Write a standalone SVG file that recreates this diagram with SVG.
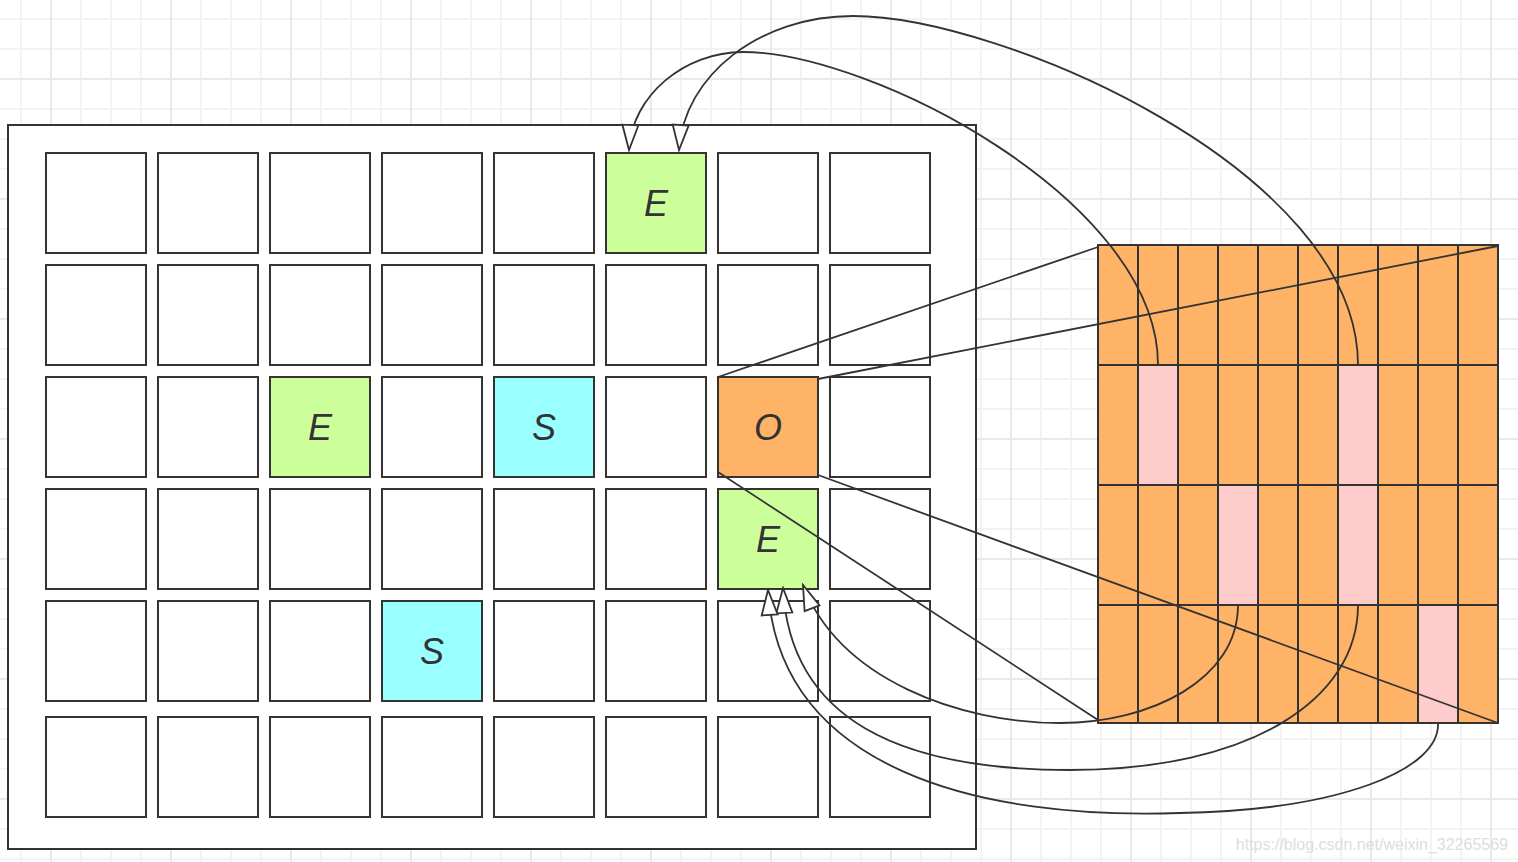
<svg xmlns="http://www.w3.org/2000/svg" width="1518" height="862" viewBox="0 0 1518 862">
<style>
.cell{fill:#fff;stroke:#333;stroke-width:2}
.g{fill:#CCFF99}
.c{fill:#99FFFF}
.o{fill:#FFB366}
.lbl{font-family:"Liberation Sans",Arial,sans-serif;font-style:italic;font-size:36px;fill:#333;text-anchor:middle}
.conn{fill:none;stroke:#333;stroke-width:1.8}
.arr{marker-end:url(#ah)}
</style>
<defs>
<pattern id="bg" patternUnits="userSpaceOnUse" x="50" y="78" width="120" height="120">
<rect x="30" y="0" width="2" height="120" fill="#f3f3f3"/>
<rect x="60" y="0" width="2" height="120" fill="#f3f3f3"/>
<rect x="90" y="0" width="2" height="120" fill="#f3f3f3"/>
<rect x="0" y="30" width="120" height="2" fill="#f3f3f3"/>
<rect x="0" y="60" width="120" height="2" fill="#f3f3f3"/>
<rect x="0" y="90" width="120" height="2" fill="#f3f3f3"/>
<rect x="0" y="0" width="2" height="120" fill="#e9e9e9"/>
<rect x="0" y="0" width="120" height="2" fill="#e9e9e9"/>
</pattern>
<marker id="ah" markerUnits="userSpaceOnUse" markerWidth="30" markerHeight="20" viewBox="-2 -2 29 20" refX="25" refY="8" orient="auto">
<path d="M0,0 L25,8 L0,16 Z" fill="#fff" stroke="#333" stroke-width="1.8" stroke-linejoin="miter"/>
</marker>
</defs>
<rect x="0" y="0" width="1518" height="862" fill="#fff"/>
<rect x="0" y="0" width="1518" height="862" fill="url(#bg)"/>

<g id="board">
<rect x="8" y="125" width="968" height="724" fill="#fff" stroke="#333" stroke-width="2"/>
</g>

<g id="cells">
<g id="r0">
<rect class="cell" x="46" y="153" width="100" height="100"/>
<rect class="cell" x="158" y="153" width="100" height="100"/>
<rect class="cell" x="270" y="153" width="100" height="100"/>
<rect class="cell" x="382" y="153" width="100" height="100"/>
<rect class="cell" x="494" y="153" width="100" height="100"/>
<rect class="cell" x="718" y="153" width="100" height="100"/>
<rect class="cell" x="830" y="153" width="100" height="100"/>
</g>
<g id="r1">
<rect class="cell" x="46" y="265" width="100" height="100"/>
<rect class="cell" x="158" y="265" width="100" height="100"/>
<rect class="cell" x="270" y="265" width="100" height="100"/>
<rect class="cell" x="382" y="265" width="100" height="100"/>
<rect class="cell" x="494" y="265" width="100" height="100"/>
<rect class="cell" x="606" y="265" width="100" height="100"/>
<rect class="cell" x="718" y="265" width="100" height="100"/>
<rect class="cell" x="830" y="265" width="100" height="100"/>
</g>
<g id="r2">
<rect class="cell" x="46" y="377" width="100" height="100"/>
<rect class="cell" x="158" y="377" width="100" height="100"/>
<rect class="cell" x="382" y="377" width="100" height="100"/>
<rect class="cell" x="606" y="377" width="100" height="100"/>
<rect class="cell" x="830" y="377" width="100" height="100"/>
</g>
<g id="r3">
<rect class="cell" x="46" y="489" width="100" height="100"/>
<rect class="cell" x="158" y="489" width="100" height="100"/>
<rect class="cell" x="270" y="489" width="100" height="100"/>
<rect class="cell" x="382" y="489" width="100" height="100"/>
<rect class="cell" x="494" y="489" width="100" height="100"/>
<rect class="cell" x="606" y="489" width="100" height="100"/>
<rect class="cell" x="830" y="489" width="100" height="100"/>
</g>
<g id="r4">
<rect class="cell" x="46" y="601" width="100" height="100"/>
<rect class="cell" x="158" y="601" width="100" height="100"/>
<rect class="cell" x="270" y="601" width="100" height="100"/>
<rect class="cell" x="494" y="601" width="100" height="100"/>
<rect class="cell" x="606" y="601" width="100" height="100"/>
<rect class="cell" x="718" y="601" width="100" height="100"/>
<rect class="cell" x="830" y="601" width="100" height="100"/>
</g>
<g id="r5">
<rect class="cell" x="46" y="717" width="100" height="100"/>
<rect class="cell" x="158" y="717" width="100" height="100"/>
<rect class="cell" x="270" y="717" width="100" height="100"/>
<rect class="cell" x="382" y="717" width="100" height="100"/>
<rect class="cell" x="494" y="717" width="100" height="100"/>
<rect class="cell" x="606" y="717" width="100" height="100"/>
<rect class="cell" x="718" y="717" width="100" height="100"/>
<rect class="cell" x="830" y="717" width="100" height="100"/>
</g>
</g>

<g id="e-top">
<rect class="cell g" x="606" y="153" width="100" height="100"/>
<text class="lbl" x="656" y="216">E</text>
</g>
<g id="e-left">
<rect class="cell g" x="270" y="377" width="100" height="100"/>
<text class="lbl" x="320" y="440">E</text>
</g>
<g id="s-mid">
<rect class="cell c" x="494" y="377" width="100" height="100"/>
<text class="lbl" x="544" y="440">S</text>
</g>
<g id="o-cell">
<rect class="cell o" x="718" y="377" width="100" height="100"/>
<text class="lbl" x="768" y="440">O</text>
</g>
<g id="e-bottom">
<rect class="cell g" x="718" y="489" width="100" height="100"/>
<text class="lbl" x="768" y="552">E</text>
</g>
<g id="s-low">
<rect class="cell c" x="382" y="601" width="100" height="100"/>
<text class="lbl" x="432" y="664">S</text>
</g>

<g id="table">
<rect x="1098" y="245" width="400" height="478" fill="#FFB366"/>
<rect x="1138" y="365" width="40" height="120" fill="#FFCCCC"/>
<rect x="1338" y="365" width="40" height="120" fill="#FFCCCC"/>
<rect x="1218" y="485" width="40" height="120" fill="#FFCCCC"/>
<rect x="1338" y="485" width="40" height="120" fill="#FFCCCC"/>
<rect x="1418" y="605" width="40" height="118" fill="#FFCCCC"/>
<path d="M1138,245V723M1178,245V723M1218,245V723M1258,245V723M1298,245V723M1338,245V723M1378,245V723M1418,245V723M1458,245V723M1098,365H1498M1098,485H1498M1098,605H1498" fill="none" stroke="#333" stroke-width="2"/>
<rect x="1098" y="245" width="400" height="478" fill="none" stroke="#333" stroke-width="2"/>
</g>

<g id="connectors">
<path class="conn" d="M718,377 L1098,247"/>
<path class="conn" d="M818,379 L1498,246"/>
<path class="conn" d="M718,472 L1098,720"/>
<path class="conn" d="M818,475 L1498,723"/>
<path class="conn arr" d="M1158,365 C1158,200 870,52 743,52 C685,52 632,95 629,150"/>
<path class="conn arr" d="M1358,365 C1358,170 1000,16 853,16 C760,16 684,75 679,150"/>
<path class="conn arr" d="M1238,605 C1238,680 1150,723 1060,723 C960,723 840,680 803,585"/>
<path class="conn arr" d="M1358,605 C1358,700 1250,770 1070,770 C900,770 790,720 783,588"/>
<path class="conn arr" d="M1438,723 C1440,770 1340,810 1180,813 C980,820 780,770 768,590"/>
</g>

<text x="1508" y="850" text-anchor="end" font-family="'Liberation Sans',Arial,sans-serif" font-size="16" fill="#dddddd">https://blog.csdn.net/weixin_32265569</text>
</svg>
